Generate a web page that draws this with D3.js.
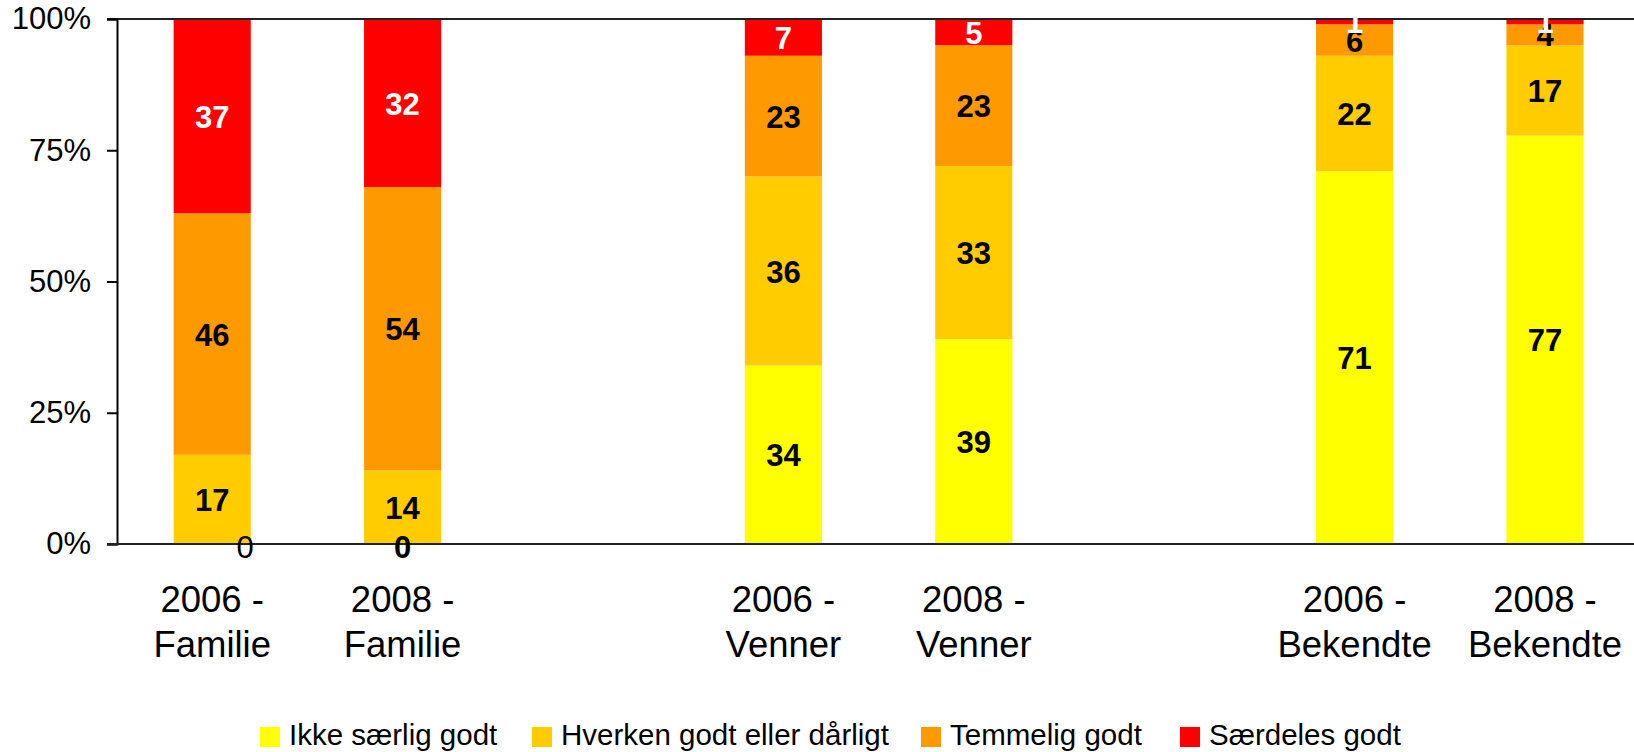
<!DOCTYPE html>
<html lang="da">
<head>
  <meta charset="UTF-8">
  <title>Stacked bars</title>
  <script src="https://d3js.org/d3.v7.min.js"></script>
  <style>
    body {
      margin: 0;
      background: #fff;
      font-family: "Liberation Sans", Arial, sans-serif;
      overflow: hidden;
    }
  </style>
</head>
<body>
  <div id="chart"></div>
  <script>
    // data (empty strings are the gaps between groups)
    const categories = ["2006 - Familie", "2008 - Familie", "", "2006 - Venner", "2008 - Venner", "", "2006 - Bekendte", "2008 - Bekendte"];
    const seriesNames = ["Ikke særlig godt", "Hverken godt eller dårligt", "Temmelig godt", "Særdeles godt"];
    const ikke      = [0, 0, null, 34, 39, null, 71, 77];
    const hverken   = [17, 14, null, 36, 33, null, 22, 17];
    const temmelig  = [46, 54, null, 23, 23, null, 6, 4];
    const saerdeles = [37, 32, null, 7, 5, null, 1, 1];
    const yTicks = [0, 0.25, 0.5, 0.75, 1];
    const colors = ["#ffff00", "#ffcc00", "#ff9900", "#ff0000"];
    const labelColors = ["#000", "#000", "#000", "#fff"];

    const W = 1634, H = 752;
    const plotLeft = 117, plotTop = 19, plotBottom = 544;
    const slot = 190.4;

    const svg = d3.select("#chart").append("svg")
      .attr("width", W).attr("height", H);

    const seriesValues = [ikke, hverken, temmelig, saerdeles];
    const rows = categories.map((c, i) => {
      const r = { idx: i, name: c };
      seriesValues.forEach((s, k) => r["s" + k] = s[i]);
      return r;
    }).filter(r => r.name !== "");

    const keys = seriesNames.map((_, k) => "s" + k);
    const stack = d3.stack().keys(keys).offset(d3.stackOffsetExpand);
    const stacked = stack(rows);

    const x = d3.scaleBand()
      .domain(d3.range(categories.length))
      .range([plotLeft, plotLeft + slot * categories.length])
      .paddingInner(0.595)
      .paddingOuter(0.2975);

    const y = d3.scaleLinear().domain([0, 1]).range([plotBottom, plotTop]);

    // bars
    const layers = svg.append("g").selectAll("g")
      .data(stacked)
      .join("g")
      .attr("fill", (d, k) => colors[k]);

    layers.selectAll("rect")
      .data(d => d)
      .join("rect")
      .attr("x", d => x(d.data.idx))
      .attr("width", x.bandwidth())
      .attr("y", d => y(d[1]))
      .attr("height", d => y(d[0]) - y(d[1]));

    // axes
    svg.append("line")
      .attr("x1", 107).attr("x2", W)
      .attr("y1", plotTop).attr("y2", plotTop)
      .attr("stroke", "#222").attr("stroke-width", 2);

    const yAxis = svg.append("g")
      .attr("transform", `translate(${plotLeft},0)`)
      .call(d3.axisLeft(y).tickValues(yTicks).tickFormat(d3.format(".0%")).tickSize(10).tickPadding(16));
    yAxis.select(".domain").attr("stroke", "#000").attr("stroke-width", 2);
    yAxis.selectAll(".tick line").attr("stroke", "#000").attr("stroke-width", 2);
    yAxis.selectAll("text")
      .attr("font-family", "Liberation Sans, Arial, sans-serif")
      .attr("font-size", 31)
      .attr("fill", "#000");

    svg.append("line")
      .attr("x1", 107).attr("x2", W)
      .attr("y1", plotBottom).attr("y2", plotBottom)
      .attr("stroke", "#222").attr("stroke-width", 2);

    // data labels
    const labelG = svg.append("g");
    stacked.forEach((layer, k) => {
      layer.forEach(d => {
        const v = d.data["s" + k];
        const cx = x(d.data.idx) + x.bandwidth() / 2;
        if (v === 0) {
          labelG.append("text")
            .attr("x", cx + (d.data.idx === 0 ? 33 : 0))
            .attr("y", plotBottom + 3)
            .attr("text-anchor", "middle")
            .attr("dominant-baseline", "central")
            .attr("font-size", 31)
            .attr("font-weight", d.data.idx === 0 ? "normal" : "bold")
            .attr("fill", "#000")
            .text(v);
          return;
        }
        labelG.append("text")
          .attr("x", cx)
          .attr("y", y((d[0] + d[1]) / 2) + 1)
          .attr("text-anchor", "middle")
          .attr("dominant-baseline", "central")
          .attr("font-size", 31)
          .attr("font-weight", "bold")
          .attr("fill", labelColors[k])
          .text(v);
      });
    });

    // category labels
    const catG = svg.append("g");
    categories.forEach((c, i) => {
      if (!c) return;
      const parts = c.split(" - ");
      const cx = x(i) + x.bandwidth() / 2;
      const t = catG.append("text")
        .attr("text-anchor", "middle")
        .attr("font-size", 36.5)
        .attr("fill", "#000");
      t.append("tspan").attr("x", cx).attr("y", 612).text(parts[0] + " -");
      t.append("tspan").attr("x", cx).attr("y", 657).text(parts[1]);
    });

    // legend
    const legendX = [260, 532, 921, 1180];
    const legend = svg.append("g").selectAll("g")
      .data(seriesNames)
      .join("g")
      .attr("transform", (d, k) => `translate(${legendX[k]},727)`);
    legend.append("rect")
      .attr("width", 20).attr("height", 20)
      .attr("fill", (d, k) => colors[k]);
    legend.append("text")
      .attr("x", 29).attr("y", 18)
      .attr("font-size", 29.5)
      .attr("fill", "#000")
      .text(d => d);
  </script>
</body>
</html>
